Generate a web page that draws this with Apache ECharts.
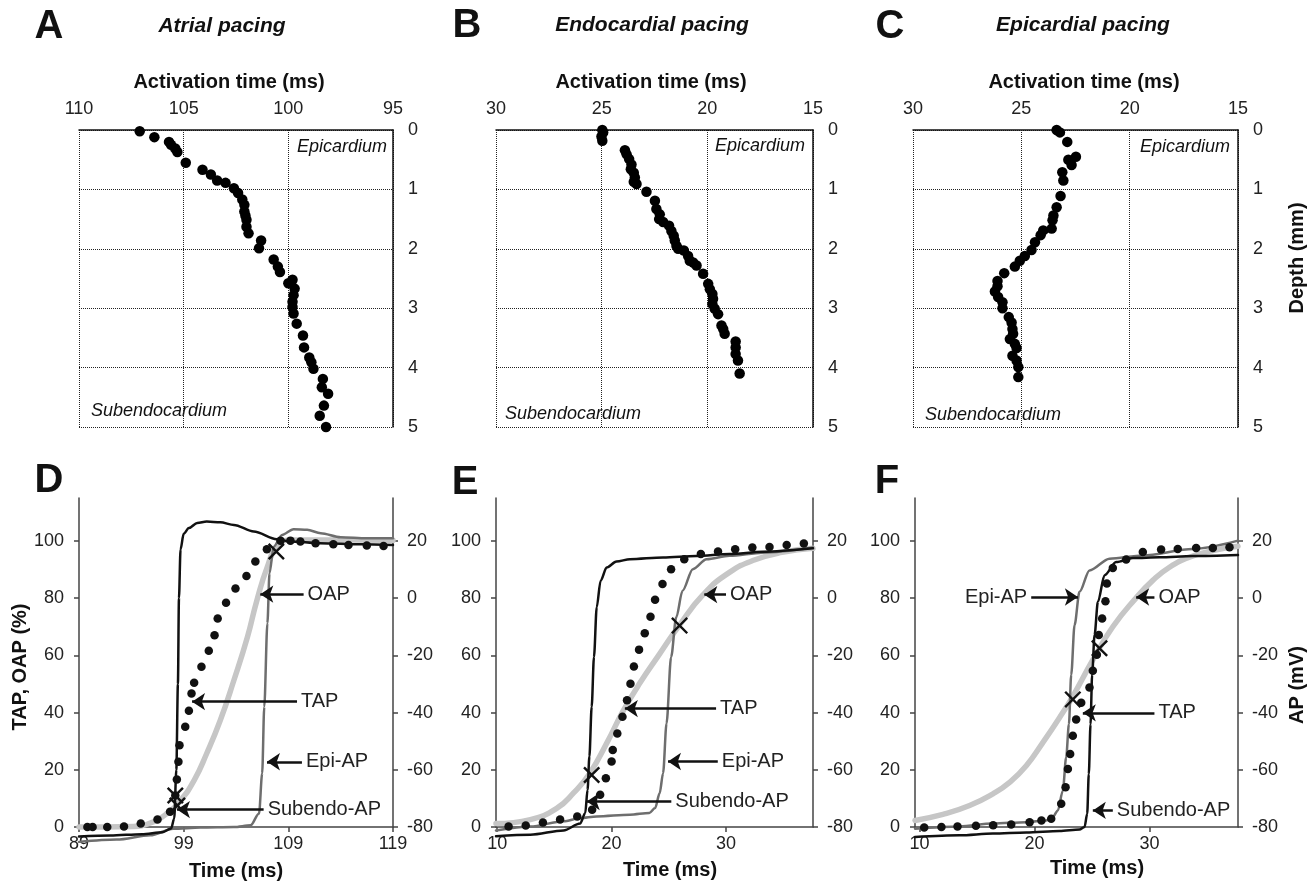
<!DOCTYPE html>
<html>
<head>
<meta charset="utf-8">
<title>Activation time and upstroke</title>
<script src="https://cdn.jsdelivr.net/npm/echarts@6/dist/echarts.min.js"></script>
<style>
  html, body { margin: 0; padding: 0; background: #fff; }
  #chart { width: 1309px; height: 884px; }
</style>
</head>
<body>
<div id="chart"></div>
<script>
// A-C: [activation time (ms), depth (mm)]
const atrialPoints = [[107.1,0.02],[106.4,0.12],[105.7,0.2],[105.6,0.25],[105.4,0.31],[105.3,0.37],[104.9,0.55],[104.1,0.67],[103.7,0.75],[103.4,0.85],[103.0,0.89],[102.6,0.98],[102.4,1.06],[102.2,1.17],[102.1,1.26],[102.1,1.37],[102.05,1.44],[102.0,1.51],[102.0,1.63],[101.9,1.74],[101.3,1.86],[101.4,1.99],[100.7,2.18],[100.5,2.3],[100.4,2.39],[99.8,2.52],[100.0,2.58],[99.7,2.67],[99.75,2.78],[99.8,2.89],[99.8,2.98],[99.75,3.09],[99.6,3.26],[99.3,3.46],[99.25,3.66],[99.0,3.83],[98.9,3.91],[98.8,4.02],[98.35,4.19],[98.4,4.33],[98.1,4.44],[98.3,4.64],[98.5,4.81],[98.2,5.0]];
const endoPoints = [[24.97,0],[24.93,0.04],[25.01,0.11],[24.97,0.18],[23.9,0.34],[23.82,0.41],[23.7,0.49],[23.59,0.58],[23.62,0.66],[23.48,0.72],[23.43,0.8],[23.48,0.87],[23.35,0.91],[22.88,1.04],[22.48,1.19],[22.41,1.33],[22.25,1.42],[22.28,1.5],[22.09,1.55],[21.81,1.61],[21.7,1.7],[21.59,1.78],[21.54,1.86],[21.46,1.95],[21.38,2.0],[21.11,2.03],[20.91,2.12],[20.83,2.2],[20.67,2.23],[20.51,2.28],[20.2,2.42],[19.96,2.59],[19.88,2.68],[19.76,2.76],[19.73,2.84],[19.76,2.93],[19.65,3.01],[19.49,3.1],[19.33,3.29],[19.25,3.35],[19.18,3.43],[18.66,3.56],[18.66,3.66],[18.66,3.77],[18.55,3.88],[18.47,4.1]];
const epiPoints = [[23.37,0],[23.22,0.04],[22.88,0.2],[22.48,0.45],[22.83,0.5],[22.68,0.59],[23.11,0.71],[23.06,0.85],[23.19,1.11],[23.37,1.3],[23.52,1.44],[23.56,1.52],[23.6,1.66],[23.99,1.69],[24.11,1.77],[24.37,1.89],[24.53,2.02],[24.84,2.12],[25.07,2.2],[25.3,2.3],[25.79,2.41],[26.1,2.54],[26.1,2.63],[26.22,2.72],[26.07,2.81],[25.87,2.9],[25.87,3.0],[25.58,3.15],[25.45,3.24],[25.41,3.35],[25.38,3.43],[25.53,3.52],[25.3,3.6],[25.22,3.67],[25.41,3.8],[25.22,3.88],[25.14,3.99],[25.14,4.16]];
const depthTicks = [0, 1, 2, 3, 4, 5];

// D-F: TAP / OAP in %, Epi-AP / Subendo-AP in mV, time in ms
const dTap = [[89.8,0],[90.3,0],[91.7,0],[93.3,0.2],[94.9,1.2],[96.5,2.6],[97.7,5.3],[98.2,11],[98.35,16.6],[98.5,22.8],[98.6,28.6],[99.15,35],[99.5,40.6],[99.75,46.7],[100.0,50.4],[100.7,56],[101.4,61.6],[101.95,67],[102.25,72.9],[103.05,78.4],[103.95,83.4],[105.0,87.7],[105.85,92.8],[106.95,97.1],[108.25,100.1],[109.2,100.1],[110.15,99.8],[111.6,99.2],[113.3,98.8],[114.75,98.6],[116.5,98.4],[118.1,98.2]];
const dOap = [[89,0],[94.2,0.2],[95.8,1.4],[97.4,4.7],[98.7,9.3],[100,16.3],[101.2,25.7],[102.5,37.3],[103.8,51.3],[105.1,66.5],[106,79.3],[107,91],[107.9,98],[109.2,100.3],[111.7,100.3],[114.9,100.3],[119,100.2]];
const dEpiAp = [[89,-85.2],[92.6,-84.4],[95.8,-82.9],[98,-80.6],[100.6,-80.2],[103.8,-80],[105.4,-79.4],[106.2,-75.3],[106.5,-61.3],[106.7,-38],[107,-8.8],[107.2,8.7],[107.6,18],[108.4,22.1],[109.5,24.1],[110.8,23.9],[112.1,22.7],[114,21.3],[116.5,20.9],[119,20.9]];
const dSubAp = [[89,-83.3],[92,-83],[95,-82.5],[97,-81.8],[97.8,-80.5],[98.1,-77],[98.3,-60],[98.45,-30],[98.55,0],[98.7,17],[99,22.5],[99.5,24.5],[100.3,26.3],[101.2,26.8],[102.5,26.5],[103.8,25.6],[105.7,23.3],[107.9,20.6],[109.2,19.8],[112,19.2],[116,18.8],[119,18.6]];
const dCross = [[98.2,11],[98.4,7.5],[107.85,96.3]];

const eTap = [[11,0.2],[12.5,0.5],[14,1.6],[15.5,2.6],[17,3.7],[18.3,6],[19,11.3],[19.5,17],[20,22.9],[20.1,26.9],[20.5,32.7],[20.95,38.5],[21.35,44.3],[21.65,50.1],[21.95,56.1],[22.4,62],[22.9,67.7],[23.4,73.5],[23.8,79.4],[24.45,84.9],[25.2,90.1],[26.35,93.6],[27.8,95.4],[29.3,96.3],[30.8,97.1],[32.3,97.7],[33.8,97.9],[35.3,98.6],[36.8,99.1]];
const eOap = [[9.9,1.2],[12.9,2.6],[15.2,6.5],[16.7,12],[18.1,18.8],[19.6,29.5],[21,40.5],[22.5,50.5],[24.2,60.5],[25.9,70.4],[28,81.2],[30.3,89],[32.6,93.5],[34.9,96],[37.6,97.4]];
const eEpiAp = [[9.9,-81.2],[12.9,-79.8],[15.8,-78],[17.25,-76.9],[18.7,-76.3],[21.6,-75.7],[23.3,-75.1],[23.8,-73.4],[24.2,-68.2],[24.5,-61.2],[24.8,-43.8],[25.2,-20.6],[25.65,-6.7],[26.2,2.6],[27.1,10.1],[28.3,13.6],[30.3,14.8],[33.2,15.9],[37.6,17.7]];
const eSubAp = [[9.9,-83.2],[12.9,-82.7],[15.8,-81.2],[17.25,-78.8],[17.7,-75.1],[17.9,-67],[18.06,-55.4],[18.26,-38],[18.46,-20.6],[18.7,-3.2],[19.04,6.1],[19.57,10.7],[20.43,12.8],[21.6,13.6],[24.5,14.2],[27.4,14.7],[30.3,15.4],[33.2,16.2],[37.6,17.4]];
const eCross = [[18.26,18.2],[25.94,70.4]];

const fTap = [[10.4,-0.2],[11.9,0],[13.3,0.2],[14.9,0.4],[16.4,0.6],[17.97,0.9],[19.57,1.7],[20.6,2.3],[21.45,2.9],[22.32,8.1],[22.7,13.9],[22.9,20.3],[23.1,25.5],[23.33,31.9],[23.62,37.6],[24.06,43.4],[24.78,48.8],[25.07,54.6],[25.42,60.2],[25.59,67.1],[25.88,72.9],[26.17,78.9],[26.29,85.1],[26.81,90.5],[27.97,93.5],[29.42,96.1],[31.01,97.0],[32.46,97.2],[34.06,97.5],[35.51,97.5],[36.96,97.8]];
const fOap = [[9.6,2.3],[12.03,4.4],[14.35,7.5],[16.38,11.6],[17.83,15.6],[19.28,21.4],[20.72,29.5],[22.17,38.2],[23.33,45.7],[25.07,58.4],[26.81,70],[28.84,80.1],[30.29,86.2],[31.74,90.8],[33.48,94.3],[35.51,96.6],[37.7,98.1]];
const fEpiAp = [[9.6,-80.6],[13.48,-79.8],[16.38,-78.8],[19.28,-78.3],[21.01,-77.7],[21.59,-76.5],[22.03,-74.2],[22.46,-67.3],[22.75,-55.7],[22.99,-44.1],[23.19,-26.8],[23.48,-9.4],[23.91,2.2],[24.78,9.7],[26.52,13.8],[29.42,14.9],[33.77,17.2],[37.7,20.1]];
const fSubAp = [[9.6,-83.5],[13.48,-82.9],[16.38,-82.3],[19.28,-81.9],[22.17,-81.4],[23.91,-80.9],[24.35,-80],[24.58,-75.4],[24.72,-61.5],[24.87,-44.1],[25.01,-26.8],[25.22,-12.9],[25.51,-1.3],[26.09,8],[27.1,12.6],[28.55,14],[30.87,14.3],[33.77,14.7],[37.7,15.1]];
const fCross = [[23.33,44.6],[25.65,62.5]];

// arrows: label, from (ms, %), to (ms, %)
const dNotes = [['OAP',110.46,81.4,106.32,81.4],['TAP',109.83,43.8,99.8,43.8],['Epi-AP',110.3,22.8,106.96,22.8],['Subendo-AP',106.64,6.1,98.36,6.1]];
const eNotes = [['OAP',30,81.2,28.1,81.2],['TAP',29.13,41.4,21.16,41.4],['Epi-AP',29.28,22.9,24.93,22.9],['Subendo-AP',25.22,8.9,17.83,8.9]];
const fNotes = [['Epi-AP',19.71,80.4,23.77,80.4],['OAP',30.43,80.4,28.84,80.4],['TAP',30.43,39.9,24.2,39.9],['Subendo-AP',26.81,5.8,25.07,5.8]];

const dTimeTicks = [89, 99, 109, 119];
const efTimeTicks = [10, 20, 30];
const pctTicks = [0, 20, 40, 60, 80, 100];
const mvTicks = [-80, -60, -40, -20, 0, 20];

const FONT = "'Liberation Sans', Arial, sans-serif";
const INK = '#222';
const CROSS = 'path://M0,1L1,0L5,4L9,0L10,1L6,5L10,9L9,10L5,6L1,10L0,9L4,5Z';

const chart = echarts.init(document.getElementById('chart'));

// bottom grids end at the 0 % line; curves are drawn unclipped below it
const grid = [
  {left: 79, top: 130, width: 314, height: 297},
  {left: 496, top: 130, width: 317, height: 297},
  {left: 913, top: 130, width: 325, height: 297},
  {left: 79, top: 498, width: 314, height: 329},
  {left: 496, top: 498, width: 317, height: 329},
  {left: 915, top: 498, width: 323, height: 329}
].map(g => Object.assign(g, {outerBoundsMode: 'none', containLabel: false}));

const xAxis = [], yAxis = [], series = [];
const tickLabel = {fontSize: 18, color: INK, fontFamily: FONT};
const dotted = {show: true, lineStyle: {type: 'dotted', color: '#222', width: 1}};

const topPanels = [
  {points: atrialPoints, min: 95, max: 110},
  {points: endoPoints, min: 15, max: 30},
  {points: epiPoints, min: 15, max: 30}
];
topPanels.forEach((p, i) => {
  xAxis.push({
    gridIndex: i, type: 'value', position: 'top', inverse: true,
    min: p.min, max: p.max, interval: 5,
    axisLine: {show: true, onZero: false, lineStyle: {color: '#111', width: 1.5}},
    axisTick: {show: false},
    axisLabel: Object.assign({margin: 12}, tickLabel),
    splitLine: dotted
  });
  yAxis.push({
    gridIndex: i, type: 'value', position: 'right', inverse: true,
    min: 0, max: 5, interval: 1,
    axisLine: {show: true, onZero: false, lineStyle: {color: '#111', width: 1.5}},
    axisTick: {show: false},
    axisLabel: Object.assign({margin: 15, customValues: depthTicks}, tickLabel),
    splitLine: dotted
  });
  series.push({
    type: 'scatter', xAxisIndex: i, yAxisIndex: i, data: p.points,
    symbolSize: 10.5, itemStyle: {color: '#000', opacity: 1}, clip: false
  });
});

const bottomPanels = [
  {tap: dTap, oap: dOap, epi: dEpiAp, sub: dSubAp, cross: dCross, notes: dNotes, min: 89, max: 119, ticks: dTimeTicks},
  {tap: eTap, oap: eOap, epi: eEpiAp, sub: eSubAp, cross: eCross, notes: eNotes, min: 9.9, max: 37.6, ticks: efTimeTicks},
  {tap: fTap, oap: fOap, epi: fEpiAp, sub: fSubAp, cross: fCross, notes: fNotes, min: 9.6, max: 37.7, ticks: efTimeTicks}
];
const axisGray = {color: '#444', width: 1.5};
bottomPanels.forEach((p, k) => {
  const g = 3 + k, xi = 3 + k, yl = 3 + 2 * k, yr = 4 + 2 * k;
  xAxis.push({
    gridIndex: g, type: 'value', min: p.min, max: p.max,
    axisLine: {show: true, onZero: false, lineStyle: axisGray},
    axisTick: {show: true, length: 5, customValues: p.ticks, lineStyle: axisGray},
    axisLabel: Object.assign({margin: 8, customValues: p.ticks}, tickLabel),
    splitLine: {show: false}
  });
  yAxis.push({
    gridIndex: g, type: 'value', position: 'left', min: 0, max: 115,
    axisLine: {show: true, onZero: false, lineStyle: axisGray},
    axisTick: {show: true, length: 5, customValues: pctTicks, lineStyle: axisGray},
    axisLabel: Object.assign({margin: 15, customValues: pctTicks}, tickLabel),
    splitLine: {show: false}
  });
  yAxis.push({
    gridIndex: g, type: 'value', position: 'right', min: -80, max: 35,
    axisLine: {show: true, onZero: false, lineStyle: axisGray},
    axisTick: {show: true, length: 5, customValues: mvTicks, lineStyle: axisGray},
    axisLabel: Object.assign({margin: 14, customValues: mvTicks}, tickLabel),
    splitLine: {show: false}
  });
  const curve = (data, yi, color, width, z, smooth, mono) => ({
    type: 'line', xAxisIndex: xi, yAxisIndex: yi, data, showSymbol: false,
    smooth, smoothMonotone: mono, z, clip: false,
    lineStyle: {color, width, cap: 'round', join: 'round'}
  });
  series.push(curve(p.oap, yl, '#c6c6c6', 5.5, 1, 0.5, null));
  series.push(curve(p.epi, yr, '#6e6e6e', 2.5, 2, 0.3, 'x'));
  series.push(curve(p.sub, yr, '#111', 2.5, 3, 0.3, 'x'));
  series.push({
    type: 'scatter', xAxisIndex: xi, yAxisIndex: yl, data: p.tap,
    symbolSize: 8.5, itemStyle: {color: '#111', opacity: 1}, z: 4, clip: false
  });
  series.push({
    type: 'scatter', xAxisIndex: xi, yAxisIndex: yl, data: p.cross,
    symbol: CROSS, symbolSize: 17, itemStyle: {color: '#111', opacity: 1}, z: 5, clip: false,
    markLine: {
      silent: true, animation: false,
      lineStyle: {color: '#111', width: 2.5, type: 'solid'},
      label: {
        show: true, position: 'start', distance: 4, formatter: q => q.name,
        fontSize: 20, color: INK, fontFamily: FONT
      },
      data: p.notes.map(n => [
        {name: n[0], coord: [n[1], n[2]], symbol: 'none'},
        {coord: [n[3], n[4]], symbol: 'arrow', symbolSize: 13}
      ])
    }
  });
});

// static text: panel letters, titles, axis names, region labels
const texts = [
  ['A', 49, 27, 'bold 40px', 'center'], ['B', 467, 26, 'bold 40px', 'center'], ['C', 890, 27, 'bold 40px', 'center'],
  ['D', 49, 481, 'bold 40px', 'center'], ['E', 465, 483, 'bold 40px', 'center'], ['F', 887, 482, 'bold 40px', 'center'],
  ['Atrial pacing', 222, 26, 'italic bold 21px', 'center'],
  ['Endocardial pacing', 652, 25, 'italic bold 21px', 'center'],
  ['Epicardial pacing', 1083, 25, 'italic bold 21px', 'center'],
  ['Activation time (ms)', 229, 82, 'bold 20px', 'center'],
  ['Activation time (ms)', 651, 82, 'bold 20px', 'center'],
  ['Activation time (ms)', 1084, 82, 'bold 20px', 'center'],
  ['Epicardium', 387, 147, 'italic 18px', 'right'],
  ['Epicardium', 805, 146, 'italic 18px', 'right'],
  ['Epicardium', 1230, 147, 'italic 18px', 'right'],
  ['Subendocardium', 91, 411, 'italic 18px', 'left'],
  ['Subendocardium', 505, 414, 'italic 18px', 'left'],
  ['Subendocardium', 925, 415, 'italic 18px', 'left'],
  ['Time (ms)', 236, 871, 'bold 20px', 'center'],
  ['Time (ms)', 670, 870, 'bold 20px', 'center'],
  ['Time (ms)', 1097, 868, 'bold 20px', 'center'],
  ['TAP, OAP (%)', 20, 667, 'bold 20px', 'center', true],
  ['Depth (mm)', 1297, 258, 'bold 20px', 'center', true],
  ['AP (mV)', 1297, 685, 'bold 20px', 'center', true]
];
const graphic = texts.map(t => ({
  type: 'text', x: t[1], y: t[2], rotation: t[5] ? Math.PI / 2 : 0, silent: true,
  style: {
    text: t[0], font: t[3] + ' ' + FONT, fill: '#111',
    align: t[4], textAlign: t[4], verticalAlign: 'middle', textVerticalAlign: 'middle'
  }
}));

chart.setOption({
  animation: false,
  backgroundColor: '#fff',
  textStyle: {fontFamily: FONT},
  grid, xAxis, yAxis, series, graphic
});
</script>
</body>
</html>
